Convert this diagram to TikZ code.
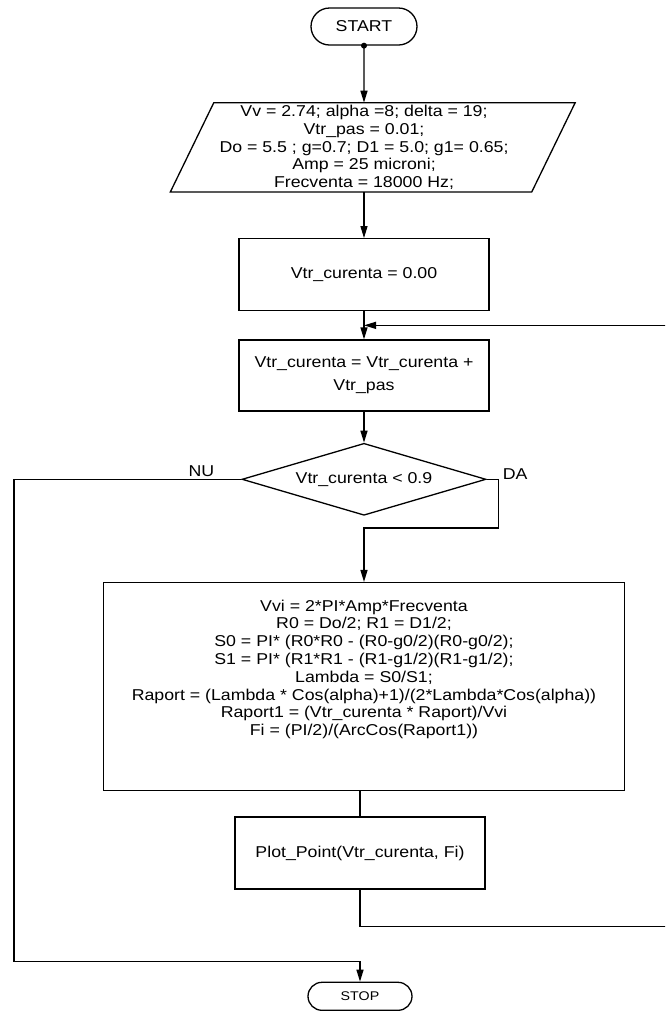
\documentclass[tikz,border=0pt]{standalone}
\usepackage{fontspec}
\setmainfont{Liberation Sans}[FakeStretch=1.13]
\usetikzlibrary{arrows.meta,positioning,shapes.geometric,shapes.misc,calc}
\newcommand{\flowfont}{\fontsize{15.7pt}{17.8pt}\selectfont}
\newcommand{\stopfont}{\fontsize{12.6pt}{14pt}\selectfont}

\begin{document}
\begin{tikzpicture}[x=1pt,y=-1pt,
  term/.style={rounded rectangle,draw,line width=1.3pt,minimum width=106pt,minimum height=37pt,inner sep=0pt,font=\flowfont},
  io/.style={rectangle,minimum width=361pt,minimum height=89pt,inner sep=0pt,align=center,font=\flowfont},
  proc/.style={rectangle,draw,line width=1.3pt,minimum width=250pt,minimum height=72pt,inner sep=0pt,align=center,font=\flowfont},
  test/.style={diamond,draw,line width=1.3pt,aspect=3.4,minimum width=244pt,minimum height=72pt,inner sep=0pt,font=\flowfont},
  lbl/.style={font=\flowfont,inner sep=0pt},
  line/.style={line width=1.3pt},
  arrow/.style={-{Triangle[length=12pt,width=7pt]},line width=1.3pt}
]
\useasboundingbox (0,0) rectangle (665,1013);
\clip (0,0) rectangle (665,1013);

% blocks
\node[term] (start) at (364,26.5) {START};
\node[io,below=57pt of start] (indata) {Vv = 2.74; alpha =8; delta = 19;\\
  Vtr\_pas = 0.01;\\
  Do = 5.5 ; g=0.7; D1 = 5.0; g1= 0.65;\\
  Amp = 25 microni;\\
  Frecventa = 18000 Hz;};
\draw[line] ([xshift=30.5pt]indata.north west) -- ([xshift=30.5pt]indata.north east)
  -- ([xshift=-13pt]indata.south east) -- ([xshift=-13pt]indata.south west) -- cycle;
\node[proc,below=46pt of indata] (init) {Vtr\_curenta = 0.00};
\node[proc,below=28pt of init,minimum height=71pt] (incr) {Vtr\_curenta = Vtr\_curenta +\\[5pt]Vtr\_pas};
\node[test,below=31pt of incr] (cond) {Vtr\_curenta < 0.9};
\node[proc,below=66pt of cond,minimum width=521pt,minimum height=208pt] (formula)
  {\rule{0pt}{28.5pt}Vvi = 2*PI*Amp*Frecventa\\
  R0 = Do/2; R1 = D1/2;\\
  S0 = PI* (R0*R0 - (R0-g0/2)(R0-g0/2);\\
  S1 = PI* (R1*R1 - (R1-g1/2)(R1-g1/2);\\
  Lambda = S0/S1;\\
  Raport = (Lambda * Cos(alpha)+1)/(2*Lambda*Cos(alpha))\\
  Raport1 = (Vtr\_curenta * Raport)/Vvi\\
  Fi = (PI/2)/(ArcCos(Raport1))\rule[-55pt]{0pt}{0pt}};
\node[proc,below=25pt of formula,xshift=-4pt] (plot) {Plot\_Point(Vtr\_curenta, Fi)};
\node[term,below=92pt of plot,minimum width=104pt,minimum height=28pt,font=\stopfont] (stop) {STOP};

% labels
\node[lbl,anchor=base east,xshift=-27pt,yshift=3pt] (nu) at (cond.west) {NU};
\node[lbl,anchor=base west,xshift=16pt] (da) at (cond.east) {DA};

% turning points
\coordinate (join) at ($(init.south)!0.5!(incr.north)$);
\coordinate (leftedge) at (14,0);
\coordinate (rightedge) at (680,0);
\coordinate[right=12pt of cond.east] (daturn);
\coordinate[above=54pt of formula.north] (dajoin);
\coordinate[below=37pt of plot.south] (plotout);
\coordinate[above=20pt of stop.north] (stopin);

% connectors
\fill (start.south) circle (3pt);
\draw[arrow] (start) -- (indata);
\draw[arrow] (indata) -- (init);
\draw[arrow] (init) -- (incr);
\draw[arrow] (incr) -- (cond);
\draw[arrow] (cond.east) -- (daturn) |- (dajoin) -- (formula.north);
\draw[line] (formula.south -| plot.north) -- (plot.north);
\draw[arrow] (plot.south) |- (rightedge |- plotout) |- (join);
\draw[arrow] (cond.west) -- (leftedge |- cond.west) |- (stopin) -- (stop.north);
\end{tikzpicture}
\end{document}
